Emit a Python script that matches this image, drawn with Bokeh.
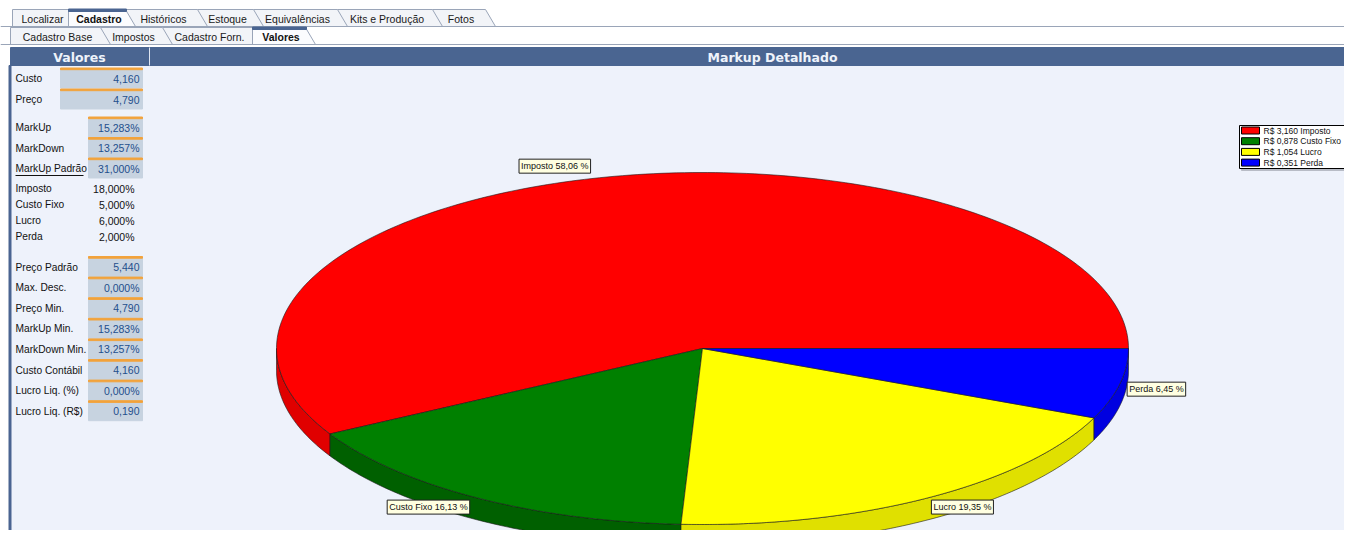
import numpy as np
from bokeh.plotting import figure
from bokeh.models import Range1d, Label
from bokeh.embed import file_html
from bokeh.resources import INLINE
from bokeh.core.properties import value

# ---------------- data ----------------
tabs_main = ["Localizar", "Cadastro", "Históricos", "Estoque", "Equivalências", "Kits e Produção", "Fotos"]
tabs_sub = ["Cadastro Base", "Impostos", "Cadastro Forn.", "Valores"]
selected_main = "Cadastro"
selected_sub = "Valores"
panel_title = "Valores"
chart_title = "Markup Detalhado"
panel_labels = ["Custo", "Preço", "MarkUp", "MarkDown", "MarkUp Padrão",
                "Imposto", "Custo Fixo", "Lucro", "Perda",
                "Preço Padrão", "Max. Desc.", "Preço Min.", "MarkUp Min.", "MarkDown Min.",
                "Custo Contábil", "Lucro Liq. (%)", "Lucro Liq. (R$)"]
panel_values = ["4,160", "4,790", "15,283%", "13,257%", "31,000%",
                "18,000%", "5,000%", "6,000%", "2,000%",
                "5,440", "0,000%", "4,790", "15,283%", "13,257%",
                "4,160", "0,000%", "0,190"]
categories = ["Imposto", "Custo Fixo", "Lucro", "Perda"]
amounts = [3.160, 0.878, 1.054, 0.351]
percents = [58.06, 16.13, 19.35, 6.45]

# ---------------- styles ----------------
top_colors = ["#ff0000", "#008000", "#ffff00", "#0000ff"]
side_colors = ["#e00000", "#006000", "#e0e000", "#0000e0"]
HEADER = "#4a6591"
BG = "#eef2fb"
FONT = value("Liberation Sans")

W, H = 1344, 530
p = figure(width=W, height=H, x_range=Range1d(0, W), y_range=Range1d(H, 0),
           output_backend="svg", toolbar_location=None, min_border=0,
           x_axis_location=None, y_axis_location=None)
p.grid.visible = False
p.outline_line_color = None
p.background_fill_color = "white"
p.border_fill_color = "white"

# ---------------- tabs ----------------
def draw_tabs(names, edges, top, bottom, selected):
    n = len(names)
    sel = names.index(selected)
    order = [i for i in range(n - 1, -1, -1) if i != sel] + [sel]
    for i in order:
        L, R = edges[i], edges[i + 1]
        fill = "#fbfcfe" if i == sel else "#f2f4f8"
        p.patch([L, L, R, R + 10], [bottom, top, top, bottom], fill_color=fill,
                line_color="#9aa5b8", line_width=1)
        if i == sel:
            p.quad(left=[L], right=[R + 1], top=[top - 0.5], bottom=[top + 2], color=HEADER)
    p.segment(x0=[0], x1=[W], y0=[bottom], y1=[bottom], line_color="#9aa5b8", line_width=1)
    xs = [(edges[i] + edges[i + 1]) / 2 + 2 for i in range(n)]
    ys = [(top + bottom) / 2 + 0.5] * n
    normal = [i for i in range(n) if i != sel]
    p.text(x=[xs[i] for i in normal], y=[ys[i] for i in normal], text=[names[i] for i in normal],
           text_align="center", text_baseline="middle", text_font=FONT,
           text_font_size="10.5px", text_color="#1a1a1a")
    p.text(x=[xs[sel]], y=[ys[sel]], text=[names[sel]], text_align="center",
           text_baseline="middle", text_font=FONT, text_font_size="10.5px",
           text_font_style="bold", text_color="#111111")

draw_tabs(tabs_main, [12, 68, 125, 197, 253, 337, 432, 485], 9, 26, selected_main)
draw_tabs(tabs_sub, [10, 100, 162, 252, 305], 27, 44, selected_sub)

# ---------------- panels ----------------
p.quad(left=[10], right=[W], top=[65], bottom=[H], color=BG)
p.quad(left=[8.5], right=[10.5], top=[65], bottom=[H], color=HEADER)
p.quad(left=[10], right=[W], top=[47], bottom=[65], color=HEADER)
p.segment(x0=[149], x1=[149], y0=[47], y1=[65], line_color="#dfe6f2", line_width=1)
p.text(x=[79], y=[56.5], text=[panel_title], text_align="center", text_baseline="middle",
       text_font=value("DejaVu Sans"), text_font_style="bold", text_font_size="12.5px",
       text_color="#eef3fb")
p.text(x=[772], y=[56.5], text=[chart_title], text_align="center", text_baseline="middle",
       text_font=value("DejaVu Sans"), text_font_style="bold", text_font_size="12.5px",
       text_color="#eef3fb")

# layout of panel rows: (first y, step, count, boxed, box_left)
groups = [(78, 21, 2, True, 60), (127, 20.5, 3, True, 88), (188, 16, 4, False, 88),
          (266.5, 20.6, 8, True, 88)]
row_y, row_box, row_left = [], [], []
for y0, st, cnt, boxed, bl in groups:
    for k in range(cnt):
        row_y.append(y0 + st * k)
        row_box.append(boxed)
        row_left.append(bl)

bx = [i for i in range(len(panel_labels)) if row_box[i]]
p.quad(left=[row_left[i] for i in bx], right=[142] * len(bx),
       top=[row_y[i] - 10 for i in bx], bottom=[row_y[i] + 9.5 for i in bx],
       color="#c7d3e0")
p.quad(left=[row_left[i] for i in bx], right=[142] * len(bx),
       top=[row_y[i] - 10.5 for i in bx], bottom=[row_y[i] - 8.8 for i in bx],
       color="#f2a33c")
p.text(x=[15] * len(panel_labels), y=row_y, text=panel_labels, text_align="left",
       text_baseline="middle", text_font=FONT, text_font_size="10.2px", text_color="#111111")
p.text(x=[139] * len(bx), y=[row_y[i] for i in bx], text=[panel_values[i] for i in bx],
       text_align="right", text_baseline="middle", text_font=FONT, text_font_size="10.5px",
       text_color="#1f4f8c")
nb = [i for i in range(len(panel_labels)) if not row_box[i]]
p.text(x=[134] * len(nb), y=[row_y[i] for i in nb], text=[panel_values[i] for i in nb],
       text_align="right", text_baseline="middle", text_font=FONT, text_font_size="10.5px",
       text_color="#111111")
iu = panel_labels.index("MarkUp Padrão")
p.segment(x0=[15], x1=[83], y0=[row_y[iu] + 7], y1=[row_y[iu] + 7], line_color="#111111",
          line_width=1)

# ---------------- 3D pie ----------------
cx, cy, rx, ry, depth = 702, 348, 426, 176, 22
tot = sum(percents)
ends = np.cumsum(percents) / tot * 2 * np.pi
starts = np.concatenate([[0.0], ends[:-1]])

def ell(t):
    return cx + rx * np.cos(t), cy - ry * np.sin(t)

side_xs, side_ys, side_c = [], [], []
for s, e, c in zip(starts, ends, side_colors):
    a, b = max(s, np.pi), min(e, 2 * np.pi)
    if a < b:
        t = np.linspace(a, b, 80)
        x, y = ell(t)
        side_xs.append(np.concatenate([x, x[::-1]]))
        side_ys.append(np.concatenate([y, (y + depth)[::-1]]))
        side_c.append(c)
p.patches(side_xs, side_ys, fill_color=side_c, line_color="#1a1a1a", line_width=0.6)

top_xs, top_ys = [], []
for s, e in zip(starts, ends):
    t = np.linspace(s, e, 200)
    x, y = ell(t)
    top_xs.append(np.concatenate([[cx], x, [cx]]))
    top_ys.append(np.concatenate([[cy], y, [cy]]))
p.patches(top_xs, top_ys, fill_color=top_colors, line_color="#1a1a1a", line_width=0.6)

for cat, pc, s, e in zip(categories, percents, starts, ends):
    m = (s + e) / 2
    lx = cx + 1.02 * rx * np.cos(m)
    ly = cy - 1.035 * ry * np.sin(m)
    right = np.cos(m) >= 0
    upper = np.sin(m) >= 0
    txt = f"{cat} {pc:.2f} %".replace(".", ",")
    p.add_layout(Label(x=lx + (-1 if right else -3), y=ly + (1 if upper else -3), text=txt,
                       text_align="left" if right else "right",
                       text_baseline="bottom" if upper else "top",
                       text_font="Liberation Sans", text_font_size="9px", text_color="#111111",
                       background_fill_color="#ffffe1", border_line_color="#222222",
                       border_line_width=1, padding=2))

# ---------------- legend ----------------
lx0, ly0 = 1239, 125
p.quad(left=[lx0 + 2], right=[W], top=[ly0 + 2], bottom=[ly0 + 45], color="#b8bcc6")
p.quad(left=[lx0], right=[W + 2], top=[ly0], bottom=[ly0 + 43], fill_color="white",
       line_color="black", line_width=1)
n = len(categories)
rows = [130 + 10.7 * k for k in range(n)]
p.quad(left=[lx0 + 2] * n, right=[lx0 + 20] * n, top=[r - 3.5 for r in rows],
       bottom=[r + 3.5 for r in rows], fill_color=top_colors, line_color="black", line_width=1)
leg_txt = [f"R$ {a:.3f} {c}".replace(".", ",") for a, c in zip(amounts, categories)]
p.text(x=[lx0 + 24] * n, y=rows, text=leg_txt, text_align="left",
       text_baseline="middle", text_font=FONT, text_font_size="8.5px", text_color="#111111")

open("out.html", "w").write(file_html(p, INLINE))
